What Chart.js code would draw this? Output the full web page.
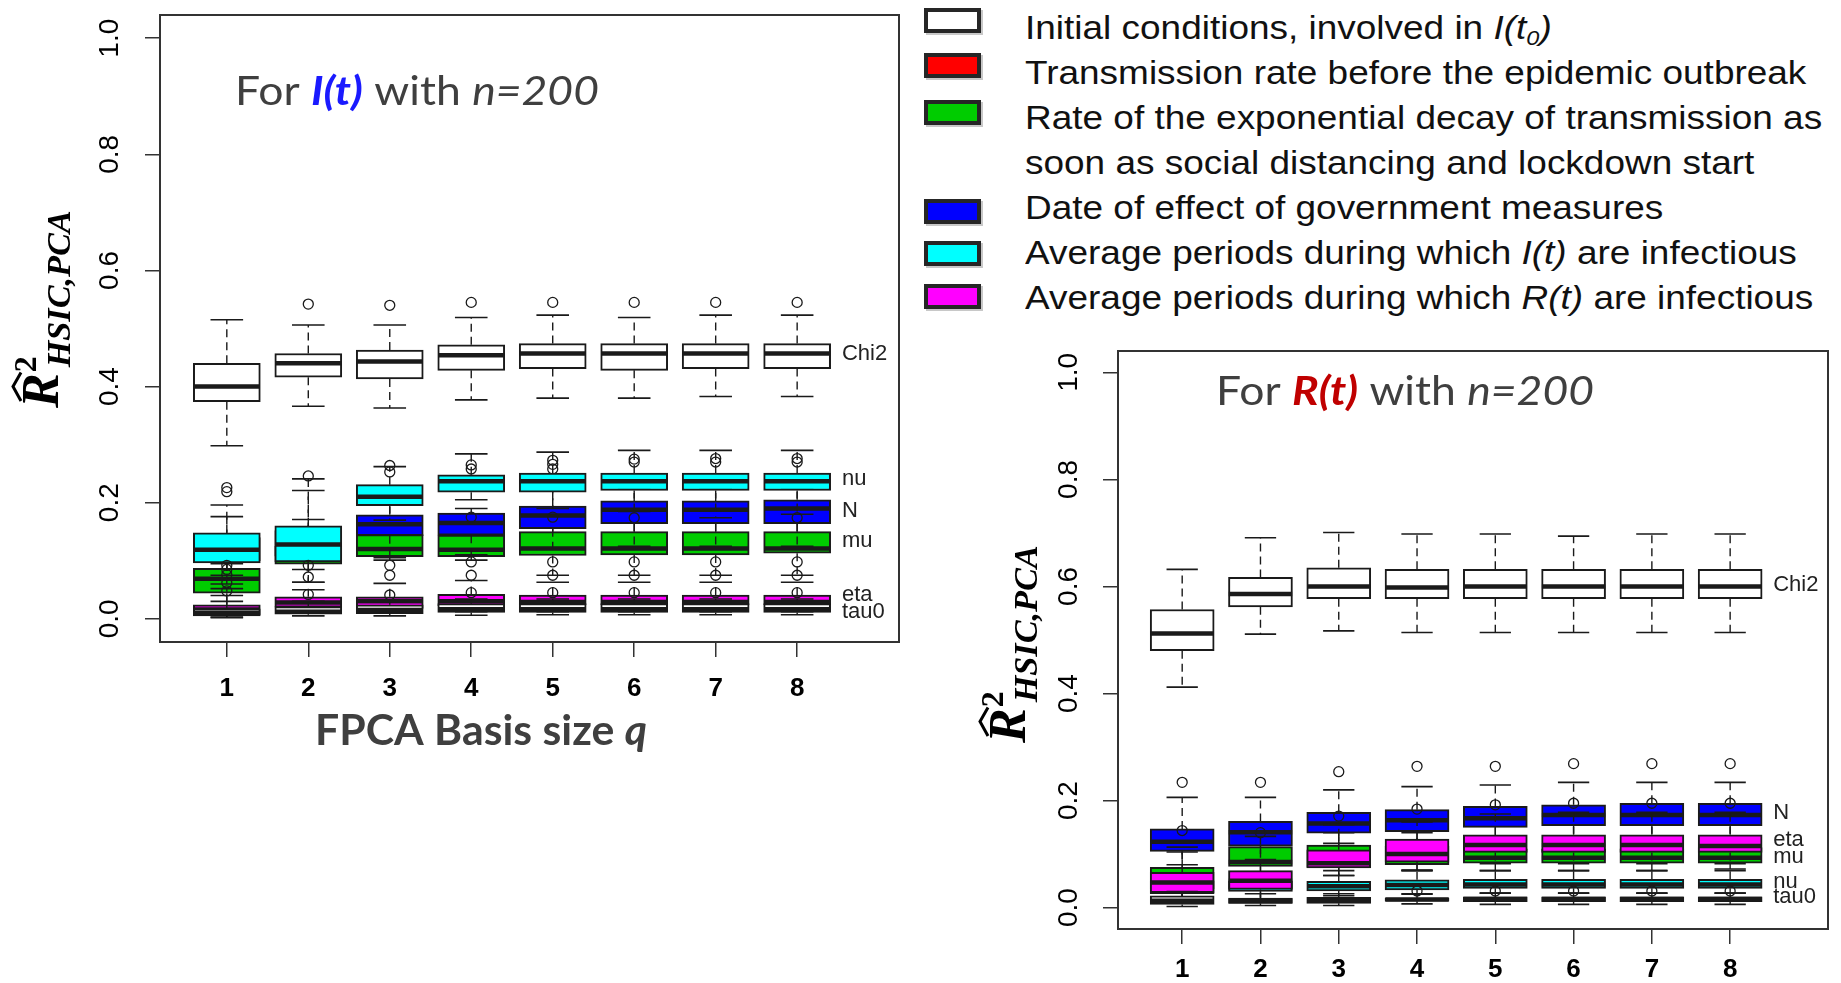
<!DOCTYPE html>
<html>
<head>
<meta charset="utf-8">
<script src="https://cdn.jsdelivr.net/npm/chart.js@4"></script>
<style>
  body { margin: 0; width: 1841px; height: 983px; position: relative; overflow: hidden; background: #fff; font-family: "Liberation Sans", Arial, sans-serif; }
  .panel { position: absolute; }
  .sw { position: absolute; left: 924px; width: 49px; height: 17px; border: 4px solid #262626; box-shadow: 2px 2px 0 #c8c8c8; }
  .legend-text { position: absolute; left: 1025px; top: 5px; font-size: 33px; line-height: 45px; color: #111; white-space: nowrap; transform: scaleX(1.12); transform-origin: left top; }
  .legend-text sub { font-size: 21px; line-height: 0; vertical-align: -6px; }
</style>
</head>
<body>
<div class="panel" style="left:0;top:0"><canvas id="chart-i" width="930" height="770"></canvas></div>
<div class="panel" style="left:960px;top:330px"><canvas id="chart-r" width="881" height="653"></canvas></div>

<div id="legend">
  <div class="sw" style="top:8px;background:#ffffff"></div>
  <div class="sw" style="top:53px;background:#ff0000"></div>
  <div class="sw" style="top:100px;background:#00cc00"></div>
  <div class="sw" style="top:199px;background:#0000ff"></div>
  <div class="sw" style="top:241px;background:#00ffff"></div>
  <div class="sw" style="top:284px;background:#ff00ff"></div>
  <div class="legend-text">
    Initial conditions, involved in <i>I(t<sub>0</sub>)</i><br>
    Transmission rate before the epidemic outbreak<br>
    Rate of the exponential decay of transmission as<br>
    soon as social distancing and lockdown start<br>
    Date of effect of government measures<br>
    Average periods during which <i>I(t)</i> are infectious<br>
    Average periods during which <i>R(t)</i> are infectious
  </div>
</div>

<script>
//Basis sizes and y ticks
const qValues = [1, 2, 3, 4, 5, 6, 7, 8];
const yTicks = [0, 0.2, 0.4, 0.6, 0.8, 1.0];

//I(t) panel, each row = [low whisker, Q1, median, Q3, high whisker] for q = 1..8
const iChi2 = [[0.298, 0.374, 0.400, 0.440, 0.515], [0.366, 0.416, 0.440, 0.457, 0.506], [0.363, 0.413, 0.443, 0.463, 0.506], [0.377, 0.428, 0.454, 0.472, 0.519],
  [0.380, 0.431, 0.457, 0.474, 0.523], [0.380, 0.428, 0.457, 0.474, 0.519], [0.383, 0.431, 0.457, 0.474, 0.523], [0.383, 0.431, 0.457, 0.474, 0.523]];
const iChi2Out = [[], [0.542], [0.540], [0.545], [0.545], [0.545], [0.545], [0.545]];
const iMu = [[0.030, 0.044, 0.069, 0.087, 0.095], [0.063, 0.094, 0.110, 0.125, 0.171], [0.101, 0.107, 0.120, 0.145, 0.165], [0.101, 0.107, 0.119, 0.144, 0.165],
  [0.075, 0.109, 0.121, 0.150, 0.170], [0.075, 0.110, 0.121, 0.150, 0.170], [0.075, 0.110, 0.121, 0.150, 0.170], [0.075, 0.113, 0.121, 0.150, 0.170]];
const iMuOut = [[], [], [], [], [], [], [], []];
const iN = [[0.075, 0.100, 0.118, 0.140, 0.176], [0.085, 0.108, 0.130, 0.152, 0.221], [0.105, 0.143, 0.163, 0.179, 0.200], [0.110, 0.144, 0.165, 0.182, 0.190],
  [0.120, 0.155, 0.178, 0.194, 0.225], [0.125, 0.164, 0.188, 0.203, 0.225], [0.125, 0.164, 0.188, 0.203, 0.225], [0.125, 0.164, 0.190, 0.205, 0.225]];
const iNOut = [[], [], [0.253, 0.264], [0.258, 0.265], [0.258, 0.266, 0.273], [0.270, 0.275], [0.270, 0.276], [0.270, 0.276]];
const iNu = [[0.060, 0.096, 0.119, 0.148, 0.196], [0.063, 0.098, 0.128, 0.160, 0.241], [0.170, 0.195, 0.210, 0.231, 0.262], [0.205, 0.218, 0.237, 0.248, 0.284],
  [0.190, 0.218, 0.237, 0.251, 0.287], [0.185, 0.221, 0.237, 0.251, 0.290], [0.174, 0.221, 0.237, 0.251, 0.290], [0.180, 0.221, 0.237, 0.251, 0.290]];
const iNuOut = [[0.219, 0.226], [0.246], [], [], [], [], [], []];
const iEta = [[0.003, 0.007, 0.016, 0.024, 0.052], [0.010, 0.020, 0.028, 0.038, 0.050], [0.010, 0.018, 0.030, 0.038, 0.061], [0.012, 0.022, 0.030, 0.042, 0.066],
  [0.012, 0.024, 0.029, 0.041, 0.063], [0.012, 0.024, 0.029, 0.041, 0.063], [0.012, 0.024, 0.029, 0.041, 0.063], [0.012, 0.024, 0.029, 0.041, 0.063]];
const iEtaOut = [[0.062, 0.076, 0.085, 0.092], [0.072, 0.092], [0.075, 0.092], [0.075, 0.098, 0.175], [0.075, 0.098, 0.175], [0.075, 0.098, 0.174], [0.075, 0.098], [0.075, 0.098, 0.174]];
const iTau0 = [[0.002, 0.005, 0.010, 0.017, 0.040], [0.005, 0.008, 0.012, 0.021, 0.030], [0.005, 0.009, 0.015, 0.024, 0.030], [0.006, 0.011, 0.0165, 0.026, 0.034],
  [0.007, 0.011, 0.0165, 0.026, 0.034], [0.007, 0.011, 0.0165, 0.026, 0.034], [0.007, 0.011, 0.0165, 0.026, 0.034], [0.007, 0.011, 0.0165, 0.026, 0.034]];
const iTau0Out = [[0.048], [0.042], [0.041], [0.045], [0.045], [0.045], [0.045], [0.045]];
const iNames = ["Chi2", "nu", "N", "mu", "eta", "tau0"];
const iNameY = [0.457, 0.241, 0.186, 0.134, 0.041, 0.012];

//R(t) panel
const rChi2 = [[0.412, 0.480, 0.512, 0.557, 0.632], [0.511, 0.562, 0.586, 0.617, 0.691], [0.517, 0.577, 0.600, 0.635, 0.701], [0.514, 0.577, 0.598, 0.632, 0.698],
  [0.514, 0.577, 0.600, 0.632, 0.698], [0.514, 0.577, 0.600, 0.632, 0.694], [0.514, 0.577, 0.600, 0.632, 0.698], [0.514, 0.577, 0.600, 0.632, 0.698]];
const rChi2Out = [[], [], [], [], [], [], [], []];
const rMu = [[0.020, 0.035, 0.055, 0.075, 0.104], [0.055, 0.077, 0.085, 0.114, 0.140], [0.060, 0.075, 0.095, 0.117, 0.140], [0.069, 0.080, 0.095, 0.115, 0.140],
  [0.069, 0.083, 0.093, 0.110, 0.130], [0.069, 0.083, 0.093, 0.110, 0.130], [0.069, 0.083, 0.093, 0.110, 0.130], [0.072, 0.083, 0.093, 0.112, 0.130]];
const rMuOut = [[], [], [], [], [], [], [], []];
const rN = [[0.080, 0.105, 0.123, 0.147, 0.206], [0.090, 0.115, 0.141, 0.161, 0.206], [0.120, 0.139, 0.157, 0.178, 0.220], [0.120, 0.142, 0.163, 0.183, 0.226],
  [0.125, 0.150, 0.167, 0.189, 0.229], [0.130, 0.153, 0.173, 0.192, 0.234], [0.130, 0.153, 0.173, 0.195, 0.234], [0.130, 0.153, 0.173, 0.195, 0.234]];
const rNOut = [[0.234], [0.234], [0.254], [0.264], [0.264], [0.269], [0.269], [0.269]];
const rNu = [[0.008, 0.026, 0.038, 0.050, 0.060], [0.012, 0.030, 0.040, 0.050, 0.060], [0.022, 0.031, 0.040, 0.049, 0.069], [0.025, 0.033, 0.042, 0.052, 0.069],
  [0.027, 0.036, 0.043, 0.053, 0.069], [0.027, 0.036, 0.043, 0.053, 0.069], [0.027, 0.036, 0.043, 0.053, 0.069], [0.027, 0.036, 0.043, 0.053, 0.069]];
const rNuOut = [[], [], [], [], [], [], [], []];
const rEta = [[0.010, 0.028, 0.047, 0.066, 0.113], [0.015, 0.034, 0.050, 0.069, 0.133], [0.060, 0.074, 0.083, 0.108, 0.155], [0.070, 0.085, 0.100, 0.128, 0.160],
  [0.082, 0.103, 0.117, 0.136, 0.175], [0.082, 0.103, 0.117, 0.136, 0.178], [0.082, 0.103, 0.117, 0.136, 0.178], [0.082, 0.103, 0.115, 0.136, 0.178]];
const rEtaOut = [[0.144], [0.140], [0.171], [0.184], [0.192], [0.195], [0.195], [0.195]];
const rTau0 = [[0.002, 0.006, 0.013, 0.022, 0.030], [0.004, 0.008, 0.012, 0.018, 0.026], [0.004, 0.008, 0.013, 0.019, 0.026], [0.007, 0.012, 0.015, 0.018, 0.026],
  [0.006, 0.011, 0.016, 0.020, 0.027], [0.006, 0.011, 0.016, 0.020, 0.027], [0.006, 0.011, 0.016, 0.020, 0.027], [0.006, 0.011, 0.016, 0.020, 0.027]];
const rTau0Out = [[], [], [], [0.031], [0.031], [0.031], [0.031], [0.031]];
const rNames = ["Chi2", "N", "eta", "mu", "nu", "tau0"];
const rNameY = [0.603, 0.177, 0.127, 0.095, 0.048, 0.019];

const WHITE = "#ffffff", GREEN = "#00cc00", BLUE = "#0000ff", CYAN = "#00ffff", MAGENTA = "#ff00ff";
const INK = "#1a1a1a";

//Build the datasets for one R style boxplot series (whiskers, caps, box, median, outliers)
function boxDatasets(stats, outliers, fill, seq, barWidth) {
  const base = 1000 - seq * 10;
  let whisk = [], caps = [], meds = [], outs = [];
  qValues.forEach((q, i) => {
    const [lo, q1, md, q3, hi] = stats[i];
    whisk.push({ x: q, y: q3 }, { x: q, y: hi }, { x: q, y: null }, { x: q, y: q1 }, { x: q, y: lo }, { x: q, y: null });
    caps.push({ x: q - 0.2, y: hi }, { x: q + 0.2, y: hi }, { x: q, y: null }, { x: q - 0.2, y: lo }, { x: q + 0.2, y: lo }, { x: q, y: null });
    meds.push({ x: q - 0.405, y: md }, { x: q + 0.405, y: md }, { x: q, y: null });
    outliers[i].forEach((v) => outs.push({ x: q, y: v }));
  });
  const line = { type: "line", pointRadius: 0, spanGaps: false, borderColor: INK, fill: false };
  return [
    { ...line, data: whisk, borderWidth: 1.4, borderDash: [8, 5], order: base },
    { ...line, data: caps, borderWidth: 1.6, order: base - 1 },
    {
      type: "bar",
      data: qValues.map((q, i) => ({ x: q, y: [stats[i][1], stats[i][3]] })),
      backgroundColor: fill, borderColor: INK, borderWidth: 2, borderSkipped: false,
      grouped: false, barThickness: barWidth, order: base - 2,
    },
    { ...line, data: meds, borderWidth: 4.5, borderCapStyle: "butt", order: base - 3 },
    {
      type: "scatter", data: outs, pointRadius: 5, pointStyle: "circle",
      pointBackgroundColor: "rgba(0,0,0,0)", pointBorderColor: INK, pointBorderWidth: 1.3, order: base - 4,
    },
  ];
}

//Text with several styles on one baseline, squeezed to a target width
function drawRich(ctx, parts, x, baseline, targetWidth) {
  let w = 0;
  parts.forEach((p) => { ctx.font = p.font; w += ctx.measureText(p.text).width; });
  ctx.save();
  ctx.translate(x, baseline);
  ctx.scale(targetWidth / w, 1);
  ctx.textBaseline = "alphabetic";
  ctx.textAlign = "left";
  let cx = 0;
  parts.forEach((p) => {
    ctx.font = p.font;
    ctx.fillStyle = p.color;
    ctx.fillText(p.text, cx, 0);
    cx += ctx.measureText(p.text).width;
  });
  ctx.restore();
}

//Rotated R-hat squared HSIC,PCA axis title
function drawYTitle(ctx, x0, y0) {
  ctx.save();
  ctx.translate(x0, y0);
  ctx.rotate(-Math.PI / 2);
  ctx.fillStyle = "#000";
  ctx.strokeStyle = "#000";
  ctx.textBaseline = "alphabetic";
  ctx.font = 'italic bold 52px "Liberation Serif", serif';
  ctx.fillText("R", 0, 0);
  const rw = ctx.measureText("R").width;
  ctx.lineWidth = 3;
  ctx.beginPath();
  ctx.moveTo(rw * 0.2, -37);
  ctx.lineTo(rw * 0.62, -45);
  ctx.lineTo(rw * 1.02, -37);
  ctx.stroke();
  ctx.font = 'bold 32px "Liberation Serif", serif';
  ctx.fillText("2", rw + 1, -22);
  ctx.font = 'italic bold 34px "Liberation Serif", serif';
  const sw = ctx.measureText("HSIC,PCA").width;
  ctx.translate(rw + 6, 12);
  ctx.scale(157 / sw, 1);
  ctx.fillText("HSIC,PCA", 0, 0);
  ctx.restore();
}

const decor = {
  id: "decor",
  afterDatasetsDraw(chart, args, o) {
    const { ctx, chartArea: a, scales: { x, y } } = chart;
    ctx.save();
    ctx.strokeStyle = "#333";
    ctx.lineWidth = 2;
    ctx.strokeRect(a.left, a.top, a.right - a.left, a.bottom - a.top);
    ctx.font = '22px "Liberation Sans Narrow", "Liberation Sans", sans-serif';
    ctx.fillStyle = "#222";
    ctx.textBaseline = "middle";
    ctx.textAlign = "left";
    o.names.forEach((n, i) => ctx.fillText(n, x.getPixelForValue(8.55), y.getPixelForValue(o.nameY[i])));
    ctx.restore();
    drawRich(ctx, o.title, o.titleX, o.titleBase, o.titleW);
    if (o.xTitle) drawRich(ctx, o.xTitle, o.xTitleX, o.xTitleBase, o.xTitleW);
    drawYTitle(ctx, o.yTitleX, o.yTitleY);
  },
};

function makeChart(canvasId, series, opt) {
  let datasets = [];
  series.forEach((s, k) => { datasets = datasets.concat(boxDatasets(s[0], s[1], s[2], k, opt.barWidth)); });
  return new Chart(document.getElementById(canvasId), {
    type: "line",
    data: { datasets: datasets },
    plugins: [decor],
    options: {
      responsive: false,
      animation: false,
      events: [],
      layout: { padding: { top: opt.padTop, right: opt.padRight, left: 0, bottom: 0 } },
      plugins: { legend: { display: false }, tooltip: { enabled: false }, decor: opt.decor },
      scales: {
        x: {
          type: "linear", min: 0.18, max: 9.25, offset: false,
          afterBuildTicks: (scale) => { scale.ticks = qValues.map((v) => ({ value: v })); },
          afterFit: (scale) => { scale.height = opt.xHeight; scale.paddingLeft = 0; scale.paddingRight = 0; },
          grid: { offset: false, drawOnChartArea: false, drawTicks: true, tickLength: 15, color: "#333", lineWidth: 1.5 },
          border: { display: false },
          ticks: {
            autoSkip: false, maxRotation: 0, padding: opt.xPad, color: "#000",
            font: { family: '"Liberation Sans", Arial, sans-serif', size: 26, weight: "bold" },
            callback: (v) => String(v),
          },
        },
        y: {
          type: "linear", min: -0.04, max: 1.04,
          afterBuildTicks: (scale) => { scale.ticks = yTicks.map((v) => ({ value: v })); },
          afterFit: (scale) => { scale.width = opt.yWidth; scale.paddingTop = 0; scale.paddingBottom = 0; },
          grid: { drawOnChartArea: false, drawTicks: true, tickLength: 15, color: "#333", lineWidth: 1.5 },
          border: { display: false },
          ticks: {
            minRotation: 90, maxRotation: 90, crossAlign: "center", padding: opt.yPad, color: "#000",
            font: { family: '"Liberation Sans Narrow", "Liberation Sans", sans-serif', size: 28 },
            callback: (v) => v.toFixed(1),
          },
        },
      },
    },
  });
}

const GRAY = "#3f3f3f";
const LATO = '"Lato", "Open Sans", sans-serif';

//Left panel: I(t)
makeChart("chart-i", [
  [iChi2, iChi2Out, WHITE], [iMu, iMuOut, GREEN], [iN, iNOut, BLUE],
  [iNu, iNuOut, CYAN], [iEta, iEtaOut, MAGENTA], [iTau0, iTau0Out, WHITE],
], {
  barWidth: 67, padTop: 15, padRight: 31, xHeight: 128, yWidth: 160, xPad: 16, yPad: 15,
  decor: {
    names: iNames, nameY: iNameY,
    title: [
      { text: "For ", font: "40px " + LATO, color: GRAY },
      { text: "I(t)", font: "italic bold 40px " + LATO, color: "#1a1aff" },
      { text: " with ", font: "40px " + LATO, color: GRAY },
      { text: "n=200", font: "italic 40px " + LATO, color: GRAY },
    ],
    titleX: 235, titleBase: 105, titleW: 364,
    xTitle: [
      { text: "FPCA Basis size ", font: "bold 42px " + LATO, color: GRAY },
      { text: "q", font: "italic bold 42px " + LATO, color: GRAY },
    ],
    xTitleX: 315, xTitleBase: 745, xTitleW: 332,
    yTitleX: 58, yTitleY: 408,
  },
});

//Right panel: R(t)
makeChart("chart-r", [
  [rChi2, rChi2Out, WHITE], [rMu, rMuOut, GREEN], [rN, rNOut, BLUE],
  [rNu, rNuOut, CYAN], [rEta, rEtaOut, MAGENTA], [rTau0, rTau0Out, WHITE],
], {
  barWidth: 64, padTop: 21, padRight: 13, xHeight: 54, yWidth: 158, xPad: 10, yPad: 14,
  decor: {
    names: rNames, nameY: rNameY,
    title: [
      { text: "For ", font: "40px " + LATO, color: GRAY },
      { text: "R(t)", font: "italic bold 40px " + LATO, color: "#c00000" },
      { text: " with ", font: "40px " + LATO, color: GRAY },
      { text: "n=200", font: "italic 40px " + LATO, color: GRAY },
    ],
    titleX: 256, titleBase: 75, titleW: 378,
    yTitleX: 65, yTitleY: 413,
  },
});
</script>
</body>
</html>
